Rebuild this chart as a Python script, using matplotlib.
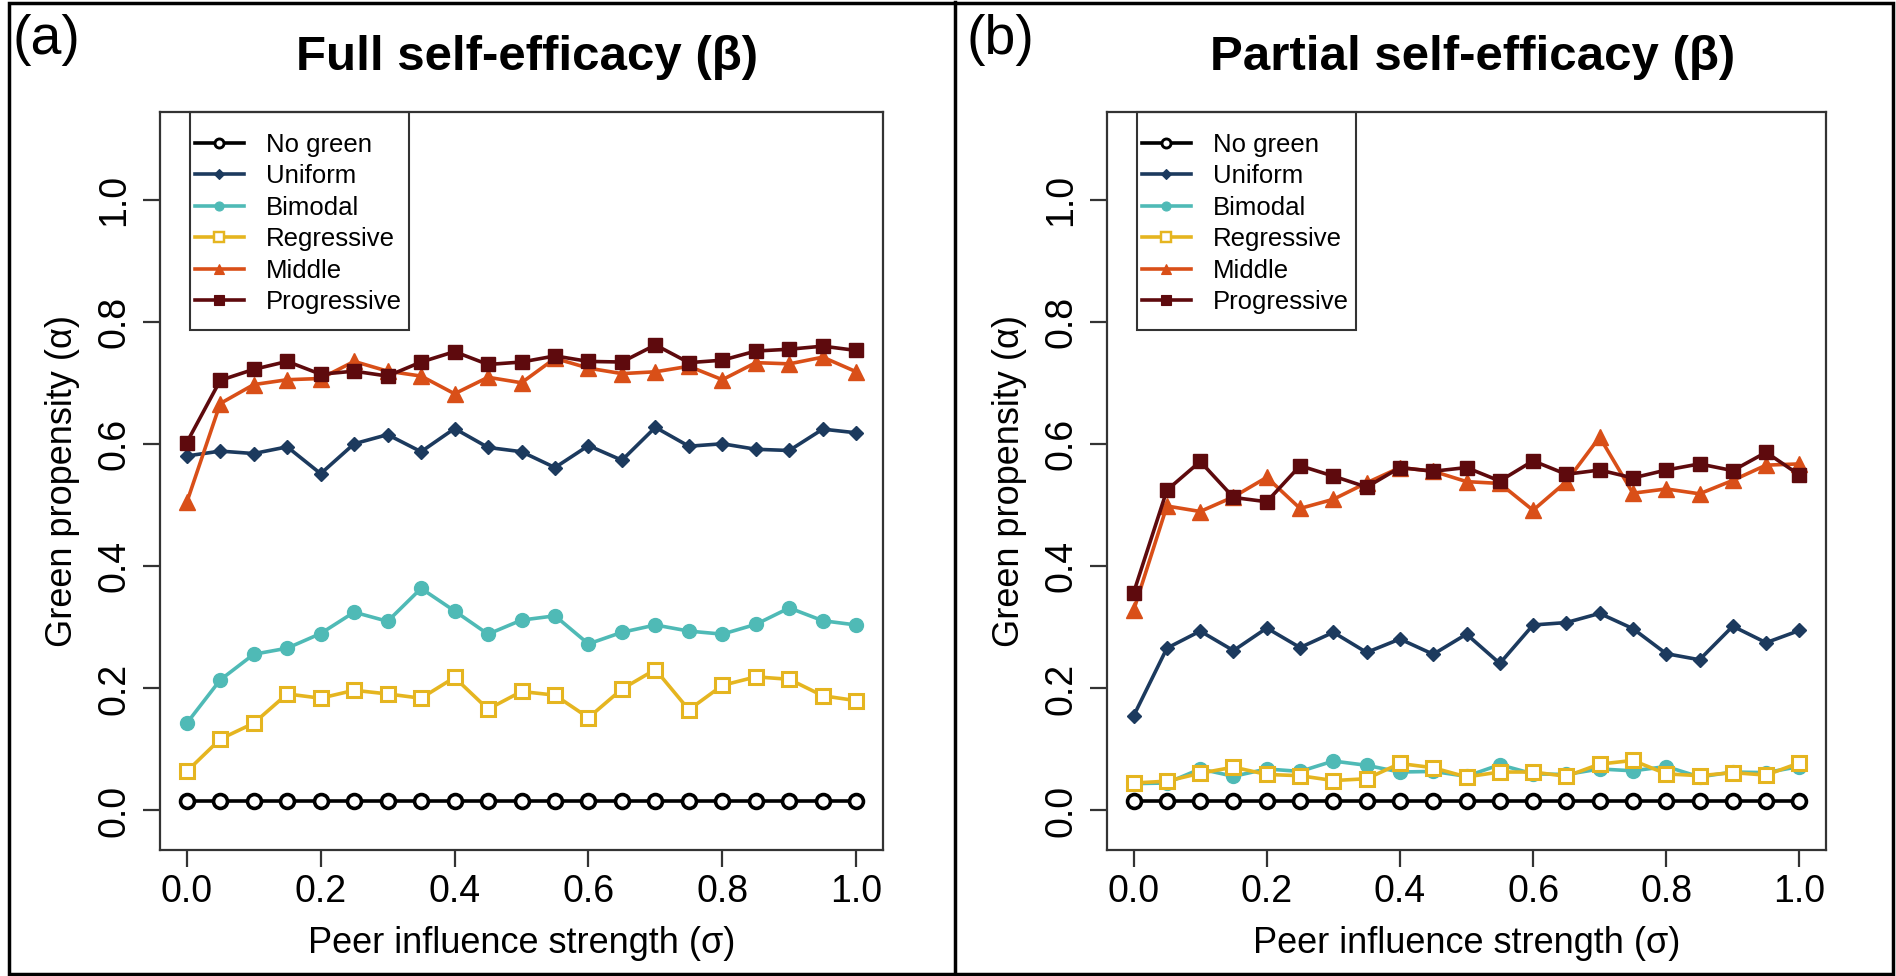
import matplotlib
matplotlib.use("Agg")
import matplotlib.pyplot as plt
from matplotlib.lines import Line2D
from matplotlib.patches import Rectangle

plt.rcParams['font.family'] = ['Liberation Sans', 'DejaVu Sans']

# ---------------- data ----------------
sigma = [0.00, 0.05, 0.10, 0.15, 0.20, 0.25, 0.30, 0.35, 0.40, 0.45, 0.50,
         0.55, 0.60, 0.65, 0.70, 0.75, 0.80, 0.85, 0.90, 0.95, 1.00]

series_names = ["No green", "Uniform", "Bimodal", "Regressive", "Middle", "Progressive"]

# Panel (a): Full self-efficacy
no_green_a = [0.015, 0.015, 0.015, 0.015, 0.015, 0.015, 0.015, 0.015, 0.015, 0.015, 0.015,
              0.015, 0.015, 0.015, 0.015, 0.015, 0.015, 0.015, 0.015, 0.015, 0.015]
uniform_a = [0.581, 0.589, 0.585, 0.596, 0.552, 0.601, 0.616, 0.588, 0.626, 0.595, 0.588,
             0.562, 0.598, 0.574, 0.628, 0.597, 0.601, 0.592, 0.590, 0.625, 0.619]
bimodal_a = [0.143, 0.214, 0.256, 0.266, 0.290, 0.325, 0.310, 0.364, 0.327, 0.289, 0.312,
             0.319, 0.273, 0.292, 0.304, 0.294, 0.289, 0.305, 0.332, 0.311, 0.304]
regressive_a = [0.064, 0.117, 0.143, 0.191, 0.184, 0.197, 0.191, 0.184, 0.218, 0.166, 0.195,
                0.189, 0.152, 0.199, 0.231, 0.165, 0.205, 0.219, 0.215, 0.188, 0.180]
middle_a = [0.505, 0.667, 0.698, 0.706, 0.708, 0.736, 0.720, 0.712, 0.683, 0.710, 0.701,
            0.741, 0.725, 0.716, 0.719, 0.728, 0.706, 0.734, 0.732, 0.743, 0.719]
progressive_a = [0.603, 0.705, 0.723, 0.736, 0.715, 0.720, 0.712, 0.735, 0.752, 0.731, 0.735,
                 0.745, 0.736, 0.735, 0.763, 0.734, 0.738, 0.753, 0.756, 0.761, 0.754]

# Panel (b): Partial self-efficacy
no_green_b = [0.015, 0.015, 0.015, 0.015, 0.015, 0.015, 0.015, 0.015, 0.015, 0.015, 0.015,
              0.015, 0.015, 0.015, 0.015, 0.015, 0.015, 0.015, 0.015, 0.015, 0.015]
uniform_b = [0.155, 0.266, 0.294, 0.262, 0.299, 0.267, 0.292, 0.259, 0.281, 0.256, 0.289,
             0.241, 0.304, 0.308, 0.323, 0.298, 0.257, 0.247, 0.302, 0.275, 0.295]
bimodal_b = [0.044, 0.045, 0.068, 0.056, 0.068, 0.064, 0.081, 0.074, 0.063, 0.064, 0.056,
             0.075, 0.060, 0.059, 0.068, 0.065, 0.072, 0.055, 0.063, 0.062, 0.072]
regressive_b = [0.045, 0.048, 0.061, 0.071, 0.059, 0.057, 0.049, 0.052, 0.077, 0.070, 0.055,
                0.063, 0.063, 0.056, 0.076, 0.082, 0.060, 0.057, 0.062, 0.058, 0.078]
middle_b = [0.328, 0.499, 0.490, 0.514, 0.546, 0.495, 0.510, 0.537, 0.562, 0.556, 0.539,
            0.536, 0.492, 0.539, 0.612, 0.520, 0.527, 0.519, 0.541, 0.566, 0.568]
progressive_b = [0.357, 0.525, 0.572, 0.513, 0.506, 0.565, 0.548, 0.530, 0.562, 0.556, 0.562,
                 0.540, 0.573, 0.551, 0.558, 0.545, 0.558, 0.568, 0.557, 0.587, 0.550]

tick_vals = [0.0, 0.2, 0.4, 0.6, 0.8, 1.0]
tick_labels = ["0.0", "0.2", "0.4", "0.6", "0.8", "1.0"]

titles = ["Full self-efficacy (\u03b2)", "Partial self-efficacy (\u03b2)"]
panel_tags = ["(a)", "(b)"]
xlabel = "Peer influence strength (\u03c3)"
ylabel = "Green propensity (\u03b1)"

# ---------------- styles ----------------
styles = [
    dict(color="#000000", marker="o", mfc="white", mec="#000000", ms=10, mew=2.6),
    dict(color="#1c3a5e", marker="D", mfc="#1c3a5e", mec="#1c3a5e", ms=7.5, mew=1),
    dict(color="#4fbab6", marker="o", mfc="#4fbab6", mec="#4fbab6", ms=10, mew=1),
    dict(color="#e5b520", marker="s", mfc="white", mec="#e5b520", ms=10, mew=2.2),
    dict(color="#d94f18", marker="^", mfc="#d94f18", mec="#d94f18", ms=12, mew=1),
    dict(color="#5e0a0d", marker="s", mfc="#5e0a0d", mec="#5e0a0d", ms=10, mew=1),
]

W, H = 1896, 976
fig = plt.figure(figsize=(W / 100, H / 100), dpi=100)

panels = [
    dict(data=[no_green_a, uniform_a, bimodal_a, regressive_a, middle_a, progressive_a],
         left=160, right=883),
    dict(data=[no_green_b, uniform_b, bimodal_b, regressive_b, middle_b, progressive_b],
         left=1107, right=1826),
]
ax_top, ax_bottom = 112, 850
ax_h = ax_bottom - ax_top

for k, p in enumerate(panels):
    ax_w = p["right"] - p["left"]
    ax = fig.add_axes([p["left"] / W, 1 - ax_bottom / H, ax_w / W, ax_h / H])
    for name, vals, st in zip(series_names, p["data"], styles):
        ax.plot(sigma, vals, color=st["color"], lw=2.6, marker=st["marker"],
                markerfacecolor=st["mfc"], markeredgecolor=st["mec"],
                markersize=st["ms"], markeredgewidth=st["mew"], label=name)
    ax.set_xlim(-0.04, 1.04)
    ax.set_ylim(-0.0648, 1.1448)
    ax.set_xticks(tick_vals)
    ax.set_xticklabels(tick_labels)
    ax.set_yticks(tick_vals)
    ax.set_yticklabels(tick_labels, rotation=90, va="center")
    ax.tick_params(axis="both", direction="out", length=12, width=1.6,
                   labelsize=27, color="#333333", pad=5)
    ax.tick_params(axis="y", pad=8)
    for sp in ax.spines.values():
        sp.set_linewidth(1.6)
        sp.set_color("#333333")
    ax.set_xlabel(xlabel, fontsize=26, labelpad=12)
    ax.set_ylabel(ylabel, fontsize=26, labelpad=12)

    # legend (frame drawn separately so that its padding matches the original)
    handles = [Line2D([0], [0], color=st["color"], lw=2.6, marker=st["marker"],
                      markerfacecolor=st["mfc"], markeredgecolor=st["mec"],
                      markersize=st["ms"] * 0.65, markeredgewidth=st["mew"] * 0.8)
               for st in styles]
    leg = ax.legend(handles, series_names, loc="upper left",
                    bbox_to_anchor=(35 / ax_w, 1 - 21 / ax_h),
                    borderaxespad=0, borderpad=0, fontsize=18.5, frameon=False,
                    handlelength=1.9, handletextpad=0.85, labelspacing=0.29)
    ax.add_patch(Rectangle((30 / ax_w, 1 - 218 / ax_h), 219 / ax_w, 218 / ax_h,
                           transform=ax.transAxes, fill=False, edgecolor="#333333",
                           lw=1.5, clip_on=False, zorder=5))

    cx = (p["left"] + p["right"]) / 2
    fig.text((cx + 6) / W, 1 - 58 / H, titles[k], ha="center", va="center",
             fontsize=35.5, fontweight="bold")

fig.text(12 / W, 1 - 40 / H, panel_tags[0], ha="left", va="center", fontsize=40)
fig.text(967 / W, 1 - 40 / H, panel_tags[1], ha="left", va="center", fontsize=40)

# panel frames
frame = Rectangle((9 / W, 2 / H), (1893 - 9) / W, (973 - 2) / H,
                  transform=fig.transFigure, fill=False, edgecolor="black", lw=2.5)
fig.add_artist(frame)
fig.add_artist(Line2D([955 / W, 955 / W], [2 / H, 1 - 2 / H],
                      transform=fig.transFigure, color="black", lw=2.5))

fig.savefig("out.png", dpi=100)
